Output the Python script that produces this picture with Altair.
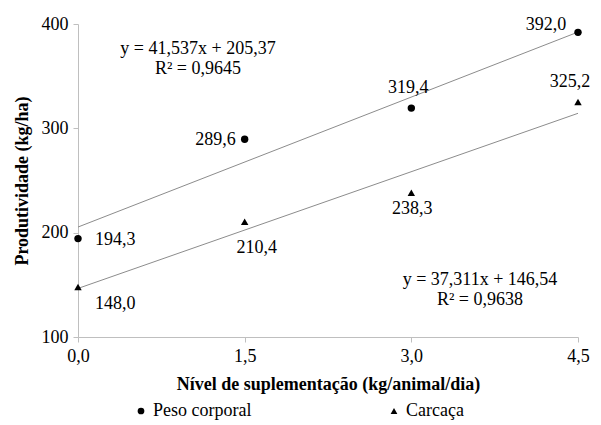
import altair as alt
import pandas as pd

x_levels = [0.0, 1.5, 3.0, 4.5]
peso = [194.3, 289.6, 319.4, 392.0]
carcaca = [148.0, 210.4, 238.3, 325.2]
series = ["Peso corporal", "Carcaça"]
eq_peso = ["y = 41,537x + 205,37", "R² = 0,9645"]
eq_carc = ["y = 37,311x + 146,54", "R² = 0,9638"]

rows = []
for i, x in enumerate(x_levels):
    rows.append({"x": x, "y": peso[i], "serie": series[0], "idx": i})
for i, x in enumerate(x_levels):
    rows.append({"x": x, "y": carcaca[i], "serie": series[1], "idx": i})
df = pd.DataFrame(rows)
df["lab"] = df["y"].map(lambda v: f"{v:.1f}".replace(".", ","))

FONT = "'Liberation Serif', 'Times New Roman', serif"
xs = alt.Scale(domain=[0, 4.5], nice=False, zero=False)
ys = alt.Scale(domain=[100, 400], nice=False, zero=False)
X = alt.X("x:Q", scale=xs, axis=alt.Axis(
    values=x_levels, title="Nível de suplementação (kg/animal/dia)",
    labelExpr="replace(format(datum.value, '.1f'), '.', ',')"))
Y = alt.Y("y:Q", scale=ys, axis=alt.Axis(values=[100, 200, 300, 400],
                                         title="Produtividade (kg/ha)"))

base = alt.Chart(df)

points = base.mark_point(filled=True, opacity=1, color="black").encode(
    x=X, y=Y,
    shape=alt.Shape("serie:N", scale=alt.Scale(domain=series, range=["circle", "triangle-up"]),
                    legend=alt.Legend(title=None, orient="none", legendX=54, legendY=378,
                                      direction="horizontal", columnPadding=133,
                                      symbolFillColor="black", symbolStrokeColor="black",
                                      symbolSize=45, labelFont=FONT, labelFontSize=18,
                                      labelColor="black", labelOffset=3)),
    size=alt.value(55),
)

trend = base.transform_regression("x", "y", groupby=["serie"], extent=[0, 4.5]).mark_line(
    color="#8c8c8c", strokeWidth=1).encode(x=X, y=Y, detail="serie:N")

# label offsets (series, idx) -> (dx, dy, align)
offsets = {
    (series[0], 0): (17, 1, "left"),
    (series[0], 1): (-9, 1, "right"),
    (series[0], 2): (-3, -20, "center"),
    (series[0], 3): (-32, -7, "center"),
    (series[1], 0): (17, 17, "left"),
    (series[1], 1): (12, 26, "center"),
    (series[1], 2): (1, 16, "center"),
    (series[1], 3): (-8, -20, "center"),
}
labels = []
for (s, i), (dx, dy, al) in offsets.items():
    labels.append(base.transform_filter(
        (alt.datum.serie == s) & (alt.datum.idx == i)).mark_text(
        font=FONT, fontSize=18, color="black", dx=dx, dy=dy, align=al, baseline="middle").encode(
        x=X, y=Y, text="lab:N"))

eq_pos = [(eq_peso, 120, 25), (eq_carc, 402, 256)]
eqs = []
for lines, px, py in eq_pos:
    for k, t in enumerate(lines):
        eqs.append(alt.Chart(pd.DataFrame({"t": [t]})).mark_text(
            font=FONT, fontSize=18, color="black", align="center", baseline="middle").encode(
            x=alt.value(px), y=alt.value(py + 20 * k), text="t:N"))

chart = alt.layer(trend, points, *labels, *eqs).properties(
    width=500, height=313, autosize=alt.AutoSizeParams(type="none"),
    padding={"left": 70, "top": 16, "right": 15, "bottom": 85},
).configure_view(stroke=None).configure_axis(
    grid=False, domainColor="#bfbfbf", tickColor="#bfbfbf", tickSize=5, labelFlush=False,
    labelFont=FONT, labelFontSize=18, labelColor="black",
    titleFont=FONT, titleFontSize=18, titleFontWeight="bold", titleColor="black",
).configure_axisX(labelPadding=5, titlePadding=10).configure_axisY(labelPadding=5, titlePadding=10)

chart.save("out.html", embed_options={"renderer": "svg", "actions": False})
